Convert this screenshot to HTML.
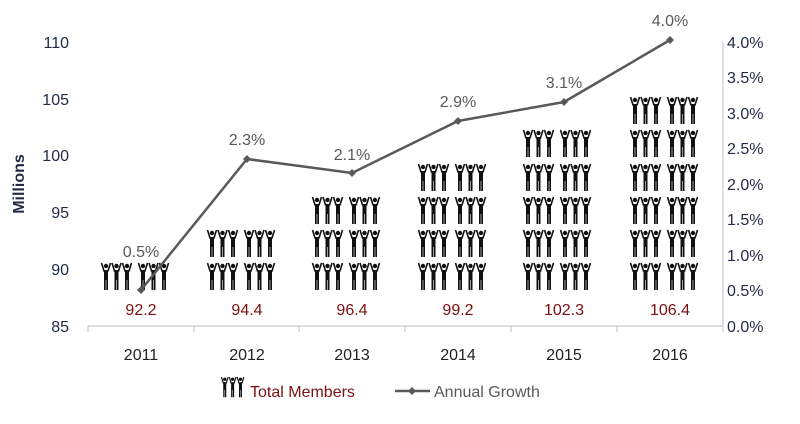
<!DOCTYPE html>
<html><head><style>
body{margin:0;background:#fff;}
text{font-family:"Liberation Sans",sans-serif;}
</style></head><body>
<svg width="800" height="419" viewBox="0 0 800 419" xmlns="http://www.w3.org/2000/svg">
<defs>
<g id="p">
<circle cx="5" cy="3" r="2.2" fill="#111"/>
<path d="M0.5 0 L3 8 L7 8 L9.5 0" stroke="#111" stroke-width="1.6" fill="none"/>
<rect x="3" y="7" width="4" height="10" fill="#111"/>
<rect x="3" y="16" width="1.7" height="11" fill="#111"/>
<rect x="5.3" y="16" width="1.7" height="11" fill="#111"/>
</g>
<g id="g3"><use href="#p" x="0"/><use href="#p" x="10.5"/><use href="#p" x="21"/></g>
<g id="row"><use href="#g3" x="0"/><use href="#g3" x="37"/></g>
</defs>
<line x1="88" y1="326" x2="723" y2="326" stroke="#bfbfbf"/>
<g stroke="#bfbfbf">
<line x1="88" y1="326" x2="88" y2="332"/><line x1="194" y1="326" x2="194" y2="332"/><line x1="299" y1="326" x2="299" y2="332"/><line x1="405" y1="326" x2="405" y2="332"/><line x1="511" y1="326" x2="511" y2="332"/><line x1="617" y1="326" x2="617" y2="332"/><line x1="723" y1="326" x2="723" y2="332"/>
<line x1="723" y1="42" x2="723" y2="326"/>
</g>
<g font-size="16" fill="#1f2a44" text-anchor="end">
<text x="69" y="332">85</text><text x="69" y="275">90</text><text x="69" y="218">95</text><text x="69" y="161">100</text><text x="69" y="105">105</text><text x="69" y="48">110</text>
</g>
<g font-size="16" fill="#1f2a44">
<text x="727" y="332">0.0%</text><text x="727" y="296">0.5%</text><text x="727" y="261">1.0%</text><text x="727" y="225">1.5%</text><text x="727" y="190">2.0%</text><text x="727" y="154">2.5%</text><text x="727" y="119">3.0%</text><text x="727" y="83">3.5%</text><text x="727" y="48">4.0%</text>
</g>
<text transform="translate(24,184) rotate(-90)" font-size="16" font-weight="bold" fill="#1f2a44" text-anchor="middle">Millions</text>
<g font-size="16" fill="#222" text-anchor="middle">
<text x="141" y="360">2011</text><text x="247" y="360">2012</text><text x="352" y="360">2013</text><text x="458" y="360">2014</text><text x="564" y="360">2015</text><text x="670" y="360">2016</text>
</g>
<use href="#row" x="101" y="263"/>
<use href="#row" x="207" y="263"/><use href="#row" x="207" y="230"/>
<use href="#row" x="312" y="263"/><use href="#row" x="312" y="230"/><use href="#row" x="312" y="197"/>
<use href="#row" x="418" y="263"/><use href="#row" x="418" y="230"/><use href="#row" x="418" y="197"/><use href="#row" x="418" y="164"/>
<use href="#row" x="523" y="263"/><use href="#row" x="523" y="230"/><use href="#row" x="523" y="197"/><use href="#row" x="523" y="164"/><use href="#row" x="523" y="130"/>
<use href="#row" x="630" y="263"/><use href="#row" x="630" y="230"/><use href="#row" x="630" y="197"/><use href="#row" x="630" y="164"/><use href="#row" x="630" y="130"/><use href="#row" x="630" y="97"/>
<g font-size="16" fill="#7b1010" text-anchor="middle">
<text x="141" y="315">92.2</text><text x="247" y="315">94.4</text><text x="352" y="315">96.4</text><text x="458" y="315">99.2</text><text x="564" y="315">102.3</text><text x="670" y="315">106.4</text>
</g>
<polyline points="141,290 247,159 352,173 458,121 564,102 670,40" fill="none" stroke="#595959" stroke-width="2.5"/>
<g fill="#595959">
<path d="M141 286 L145 290 L141 294 L137 290Z"/><path d="M247 155 L251 159 L247 163 L243 159Z"/><path d="M352 169 L356 173 L352 177 L348 173Z"/><path d="M458 117 L462 121 L458 125 L454 121Z"/><path d="M564 98 L568 102 L564 106 L560 102Z"/><path d="M670 36 L674 40 L670 44 L666 40Z"/>
</g>
<g font-size="16" fill="#595959" text-anchor="middle">
<text x="141" y="257">0.5%</text><text x="247" y="145">2.3%</text><text x="352" y="160">2.1%</text><text x="458" y="107">2.9%</text><text x="564" y="88">3.1%</text><text x="670" y="26">4.0%</text>
</g>
<use href="#g3" transform="translate(221,377) scale(0.75)"/>
<text x="250" y="397" font-size="16" fill="#7b1010">Total Members</text>
<line x1="395" y1="391" x2="430" y2="391" stroke="#595959" stroke-width="2.5"/>
<path d="M412 387 L416 391 L412 395 L408 391Z" fill="#595959"/>
<text x="434" y="397" font-size="16" fill="#595959">Annual Growth</text>
</svg>
</body></html>
